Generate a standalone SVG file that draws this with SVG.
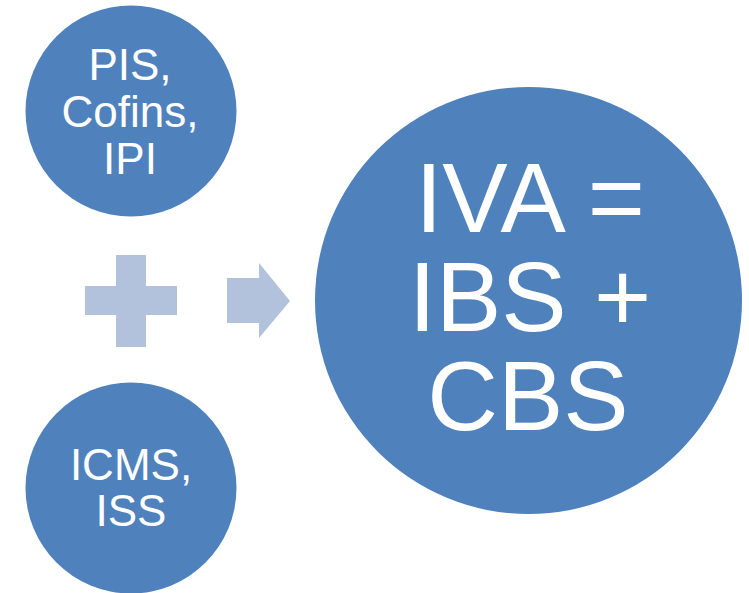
<svg xmlns="http://www.w3.org/2000/svg" width="749" height="593" viewBox="0 0 749 593">
<style>
.node{fill:#4F81BD;}
.op{fill:#B3C2DC;}
.t{fill:#FFFFFF;font-family:"Liberation Sans",Arial,sans-serif;text-anchor:middle;}
.s{font-size:44px;}
.b{font-size:98px;}
</style>
<rect width="749" height="593" fill="#FFFFFF"/>
<g id="node-pis">
<circle class="node" cx="131" cy="111" r="105.5"/>
<text class="t s" x="130" y="80">PIS,</text>
<text class="t s" x="130" y="127">Cofins,</text>
<text class="t s" x="130" y="174">IPI</text>
</g>
<g id="node-icms">
<circle class="node" cx="131" cy="488" r="105.5"/>
<text class="t s" x="131" y="480">ICMS,</text>
<text class="t s" x="131" y="526">ISS</text>
</g>
<g id="node-plus">
<path class="op" d="M116 255H146V286H177V315H146V347H116V315H85V286H116Z"/>
</g>
<g id="connectors">
<path class="op" d="M227 278H259V263L290 301L259 338V323H227Z"/>
</g>
<g id="node-iva">
<circle class="node" cx="528.5" cy="300.5" r="213.5"/>
<text class="t b" x="530" y="232">IVA =</text>
<text class="t b" x="530" y="331">IBS +</text>
<text class="t b" x="528" y="430">CBS</text>
</g>
</svg>
